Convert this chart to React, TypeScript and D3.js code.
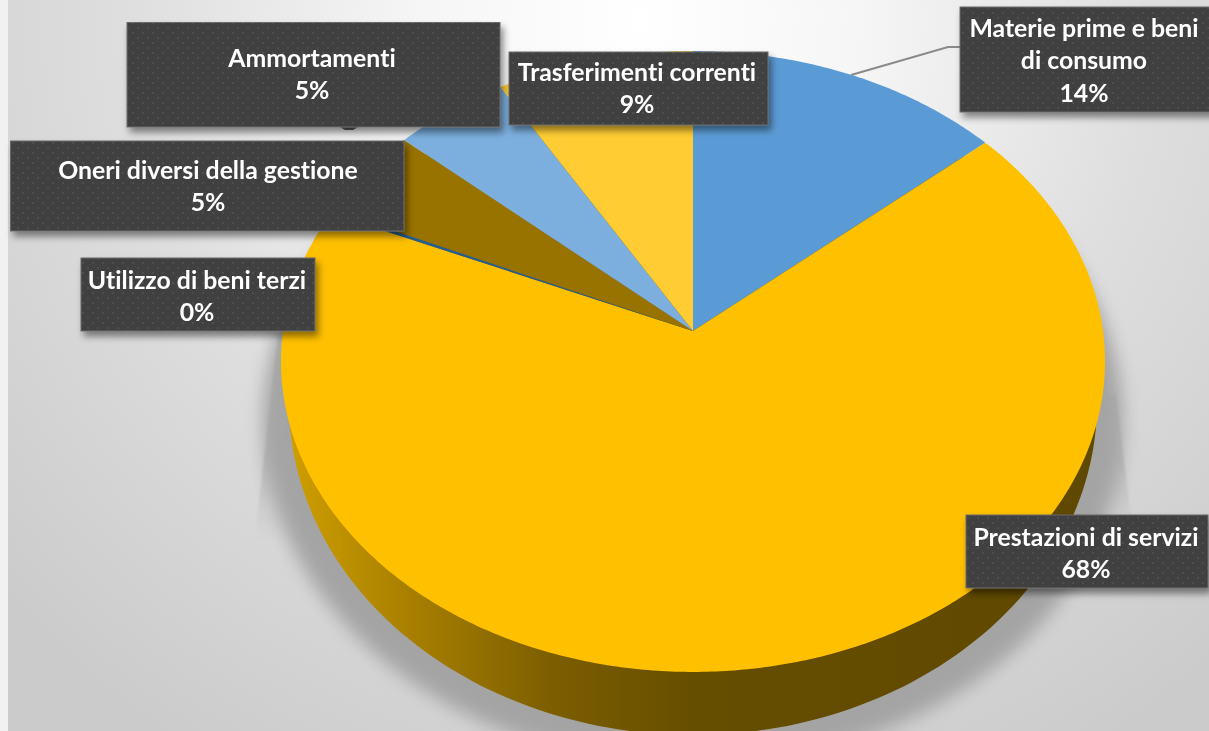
import React from "react";
import * as d3 from "d3";

const categories = ["Materie prime e beni di consumo", "Prestazioni di servizi", "Utilizzo di beni terzi", "Oneri diversi della gestione", "Ammortamenti", "Trasferimenti correnti"];
const shares = [13.7, 67.8, 0.2, 4.8, 5.0, 8.5];
const percentLabels = ["14%", "68%", "0%", "5%", "5%", "9%"];
const sliceColors = ["#5b9bd5", "#ffc000", "#255e91", "#997300", "#7cafde", "#ffcd33"];

// label layout, by category index
const labelLines = [["Materie prime e beni", "di consumo"], ["Prestazioni di servizi"], ["Utilizzo di beni terzi"], ["Oneri diversi della gestione"], ["Ammortamenti"], ["Trasferimenti correnti"]];
const labelBoxes = [
  { x: 960, y: 7, w: 260, h: 105, cx: 1084, ty: 28 },
  { x: 966, y: 515, w: 242, h: 73, cx: 1086, ty: 537 },
  { x: 81, y: 258, w: 234, h: 73, cx: 197, ty: 280 },
  { x: 10.5, y: 141, w: 393.5, h: 90, cx: 208, ty: 170 },
  { x: 127, y: 22.5, w: 373, h: 104.5, cx: 312, ty: 58 },
  { x: 509, y: 52, w: 259, h: 73, cx: 637, ty: 72 },
];

const CX = 693, CY = 361;
const A = 310.4, B = -30, C = -0.0982, D = 410;
// perspective projection of a pie angle onto the tilted top face
const project = (t: number): [number, number] => {
  const y = -Math.cos(t), den = 1 + C * y;
  return [CX + (D * Math.sin(t)) / den, CY + (A * y + B) / den];
};
const APEX: [number, number] = [CX, CY + B];

const pieGen = d3.pie<number>().sort(null).value((d) => d);
const arcs = pieGen(shares);
const line = d3.line();

const slicePath = (s: number, e: number) => {
  const n = Math.max(2, Math.ceil((e - s) / 0.01));
  const pts: [number, number][] = [APEX];
  d3.range(n + 1).forEach((i) => pts.push(project(s + ((e - s) * i) / n)));
  return line(pts) + "Z";
};

const ellipse = (cx: number, cy: number, rx: number, ry: number) =>
  d3.line().curve(d3.curveCardinalClosed)(
    d3.range(120).map((i) => {
      const t = (i / 120) * 2 * Math.PI;
      return [cx + rx * Math.cos(t), cy + ry * Math.sin(t)] as [number, number];
    })
  )!;

const FONT = "Lato, 'Open Sans', sans-serif";

export default function App() {
  return (
    <svg width={1209} height={731} viewBox="0 0 1209 731" style={{ position: "absolute", left: 0, top: 0, display: "block" }}>
      <defs>
        <radialGradient id="bg" gradientUnits="userSpaceOnUse" cx={640} cy={20} r={860}>
          <stop offset="0" stopColor="#ffffff" />
          <stop offset="0.25" stopColor="#f6f6f6" />
          <stop offset="0.6" stopColor="#dedede" />
          <stop offset="1" stopColor="#cbcbcb" />
        </radialGradient>
        <linearGradient id="wall" gradientUnits="userSpaceOnUse" x1={285} y1={0} x2={1100} y2={0}>
          <stop offset="0" stopColor="#d09f00" />
          <stop offset="0.16" stopColor="#a67e00" />
          <stop offset="0.33" stopColor="#7c5e00" />
          <stop offset="0.5" stopColor="#664e00" />
          <stop offset="1" stopColor="#5f4800" />
        </linearGradient>
        <linearGradient id="fan" gradientUnits="userSpaceOnUse" x1={0} y1={330} x2={0} y2={545}>
          <stop offset="0" stopColor="#b4b4b4" />
          <stop offset="0.6" stopColor="#bcbcbc" />
          <stop offset="1" stopColor="#c8c8c8" stopOpacity={0} />
        </linearGradient>
        <filter id="blur" x="-20%" y="-20%" width="140%" height="140%">
          <feGaussianBlur stdDeviation="9" />
        </filter>
        <filter id="soft" x="-20%" y="-20%" width="140%" height="140%">
          <feGaussianBlur stdDeviation="1" />
        </filter>
        <filter id="textSoft" x="-5%" y="-5%" width="110%" height="110%">
          <feGaussianBlur stdDeviation="0.35" />
        </filter>
        <filter id="boxShadow" x="-10%" y="-20%" width="125%" height="150%">
          <feDropShadow dx="3" dy="5" stdDeviation="3.5" floodColor="#000" floodOpacity="0.45" />
        </filter>
        <pattern id="dots" width={10} height={10} patternUnits="userSpaceOnUse">
          <rect width={10} height={10} fill="#3f3f3f" />
          <rect x={2} y={2} width={2} height={2} fill="#4e4e4e" />
          <rect x={7} y={7} width={2} height={2} fill="#4e4e4e" />
        </pattern>
      </defs>

      <rect width={1209} height={731} fill="#f1f1f1" />
      <rect x={8} width={1201} height={731} fill="url(#bg)" />

      <path d="M278,335L254,545L1132,525L1116,395Z" fill="url(#fan)" filter="url(#soft)" />
      <path d={ellipse(693, 422, 430, 344)} fill="#a4a4a4" filter="url(#blur)" />

      <path d={ellipse(693, 403, 404, 332)} fill="url(#wall)" />

      {arcs.map((a, i) => (
        <path key={categories[i]} d={slicePath(a.startAngle, a.endAngle)} fill={sliceColors[i]} />
      ))}

      <path d="M851,75L948,47L962,47" fill="none" stroke="#8a8a8a" strokeWidth={2} />
      <path d="M340,127L345,130L353,130L358,127" fill="#555" />

      {labelBoxes.map((b, i) => (
        <g key={categories[i]}>
          <rect x={b.x} y={b.y} width={b.w} height={b.h} fill="url(#dots)" stroke="#6a6a6a" strokeWidth={1} filter="url(#boxShadow)" />
          <text textAnchor="middle" fontFamily={FONT} fontWeight={700} fontSize={24.8} fill="#fff" filter="url(#textSoft)" style={{ fontVariantLigatures: "none" }}>
            {[...labelLines[i], percentLabels[i]].map((t, k) => (
              <tspan key={k} x={b.cx} y={b.ty + k * 32.5} dy="0.36em">{t}</tspan>
            ))}
          </text>
        </g>
      ))}
    </svg>
  );
}
